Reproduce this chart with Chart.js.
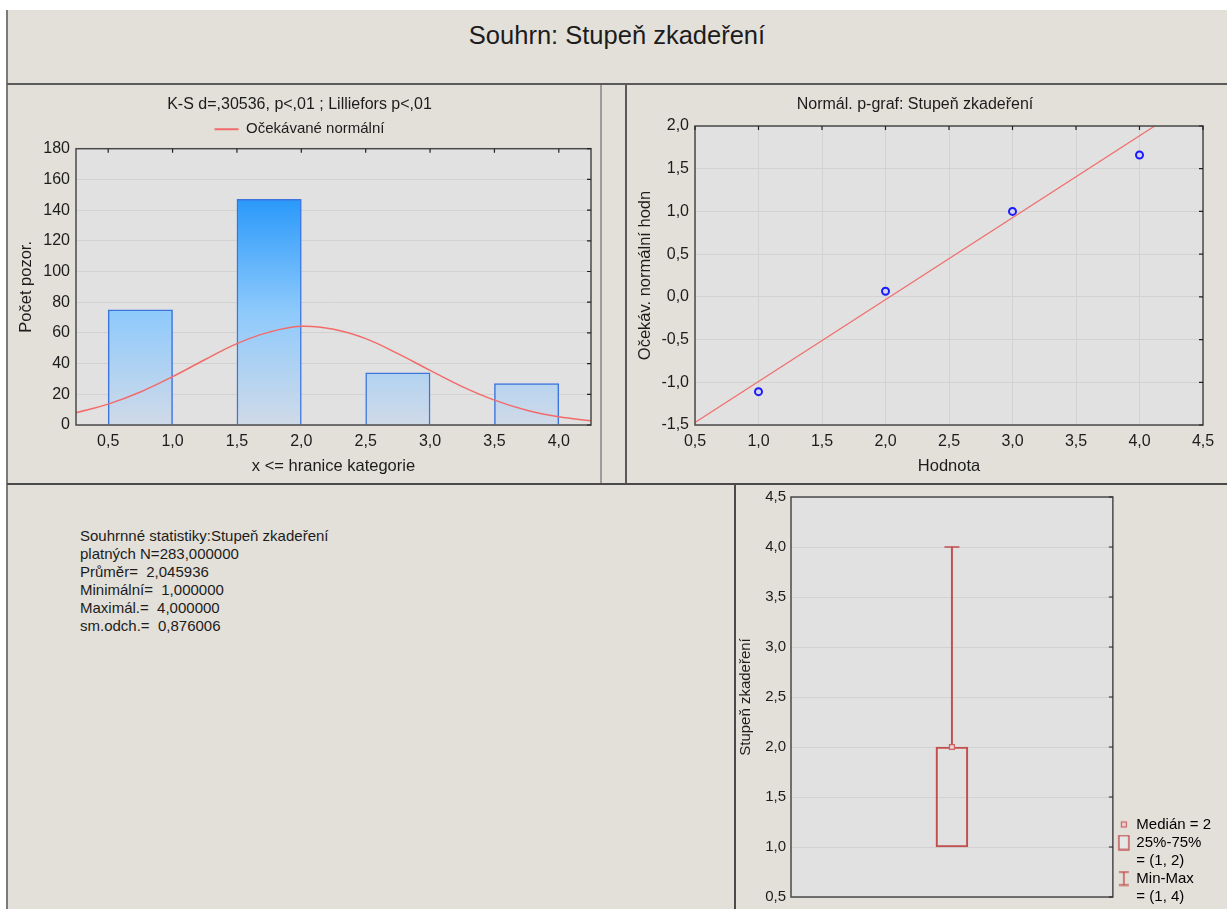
<!DOCTYPE html>
<html lang="cs">
<head>
<meta charset="utf-8">
<title>Souhrn: Stupeň zkadeření</title>
<script src="https://cdn.jsdelivr.net/npm/chart.js@4.4.1/dist/chart.umd.min.js"></script>
<style>
  html, body { margin: 0; padding: 0; background: #fff; }
  body { width: 1227px; height: 909px; position: relative; overflow: hidden;
         font-family: "Liberation Sans", Arial, sans-serif; color: #1c1c1c; }
  .bg { position: absolute; left: 7px; top: 10px; width: 1220px; height: 899px; background: #e3e0d9; }
  .ln { position: absolute; }
  #mainTitle { position: absolute; left: 7px; top: 10px; width: 1220px; height: 74px;
               font-size: 25.5px; text-align: center; line-height: 50px; }
  canvas { position: absolute; }
  #stats { position: absolute; left: 80px; top: 527px; font-size: 15px; line-height: 18px; white-space: pre; }
</style>
</head>
<body>
<div class="bg"></div>
<div id="mainTitle">Souhrn: Stupeň zkadeření</div>

<canvas id="hist" width="592" height="397" style="left:8px;top:86px"></canvas>
<canvas id="pplot" width="600" height="397" style="left:627px;top:86px"></canvas>
<canvas id="boxplot" width="491" height="424" style="left:736px;top:485px"></canvas>
<div id="stats"></div>

<!-- ramecky panelu -->
<div class="ln" style="left:6px;top:10px;width:2px;height:899px;background:#7a7a7a"></div>
<div class="ln" style="left:7px;top:83px;width:1220px;height:2px;background:#5a5a5a"></div>
<div class="ln" style="left:600px;top:85px;width:2px;height:398px;background:#9c9c9c"></div>
<div class="ln" style="left:625px;top:85px;width:2px;height:398px;background:#5a5a5a"></div>
<div class="ln" style="left:7px;top:483px;width:1220px;height:2px;background:#4a4a4a"></div>
<div class="ln" style="left:734px;top:484px;width:2px;height:425px;background:#4a4a4a"></div>

<script>
// ---- data ----
const histCenters = [0.75, 1.75, 2.75, 3.75];
const histCounts = [75, 147, 34, 27];
const histXTicks = [0.5, 1.0, 1.5, 2.0, 2.5, 3.0, 3.5, 4.0];
const normalX = [0.25, 0.5, 0.75, 1.0, 1.25, 1.5, 1.75, 2.0, 2.25, 2.5, 2.75, 3.0, 3.25, 3.5, 3.75, 4.0, 4.25];
const normalY = [8, 13.6, 21.5, 31.5, 42.5, 53, 60.5, 64.3, 62.4, 56.3, 46.5, 35.6, 25, 16.2, 9.6, 5.3, 2.7];

const ppX = [1, 2, 3, 4];
const ppY = [-1.11, 0.065, 1.0, 1.66];
const refLineX = [0.5, 4.12];
const refLineY = [-1.47, 2.0];

const boxMin = [1];
const boxQ1 = [1];
const boxMedian = [2];
const boxQ3 = [2];
const boxMax = [4];

const statLabels = ["platných N=", "Průměr=  ", "Minimální=  ", "Maximál.=  ", "sm.odch.=  "];
const statValues = ["283,000000", "2,045936", "1,000000", "4,000000", "0,876006"];

// ---- helpers ----
const FONT = '"Liberation Sans", Arial, sans-serif';
const TXT = '#1c1c1c';
const GRID = '#d2d2d2';
const PLOT_BG = '#e1e1e1';
const RED = '#c24e4e';

Chart.defaults.font.family = FONT;
Chart.defaults.color = TXT;

const fmt1 = v => Number(v).toFixed(1).replace('.', ',');

document.getElementById('stats').textContent =
  'Souhrnné statistiky:Stupeň zkadeření\n' +
  statLabels.map((l, i) => l + statValues[i]).join('\n');

const plotFrame = {
  id: 'plotFrame',
  beforeDraw(chart, args, opts) {
    const { ctx, chartArea: a } = chart;
    ctx.save();
    ctx.fillStyle = PLOT_BG;
    ctx.fillRect(a.left, a.top, a.width, a.height);
    ctx.restore();
  },
  afterDraw(chart, args, opts) {
    const { ctx, chartArea: a } = chart;
    ctx.save();
    ctx.strokeStyle = '#4a4a4a';
    ctx.lineWidth = 1.5;
    ctx.strokeRect(a.left, a.top, a.width, a.height);
    ctx.strokeStyle = '#222';
    ctx.lineWidth = 1.2;
    ctx.beginPath();
    if (opts.markTop) {
      const sx = chart.scales.x;
      sx.ticks.forEach(t => {
        const px = sx.getPixelForValue(t.value);
        ctx.moveTo(px, a.top); ctx.lineTo(px, a.top + 4);
      });
    }
    const sy = chart.scales.y;
    sy.ticks.forEach(t => {
      const py = sy.getPixelForValue(t.value);
      ctx.moveTo(a.right, py); ctx.lineTo(a.right - 4, py);
    });
    ctx.stroke();
    ctx.restore();
  }
};

// prazdna osa jen jako mezera
function spacer(position, size) {
  return {
    type: position === 'bottom' ? 'category' : 'linear', position: position, display: true,
    grid: { display: false, drawTicks: false }, border: { display: false }, ticks: { display: false },
    afterFit: s => { s.height = size; }
  };
}

function barGradient(c) {
  const chart = c.chart;
  if (!chart.chartArea) return '#8ec8fb';
  const y = chart.scales.y;
  const g = chart.ctx.createLinearGradient(0, y.getPixelForValue(Math.max(...histCounts)), 0, y.getPixelForValue(0));
  g.addColorStop(0, 'rgb(42,153,250)');
  g.addColorStop(0.5, 'rgb(142,202,252)');
  g.addColorStop(1, 'rgb(208,218,232)');
  return g;
}

// ---- histogram ----
new Chart(document.getElementById('hist'), {
  type: 'bar',
  data: {
    datasets: [
      {
        type: 'bar', label: 'Počet pozor.',
        data: histCenters.map((x, i) => ({ x, y: histCounts[i] })),
        backgroundColor: barGradient, borderColor: '#3c74de', borderWidth: 1.5,
        barPercentage: 1, categoryPercentage: 1, order: 2
      },
      {
        type: 'line', label: 'Očekávané normální',
        data: normalX.map((x, i) => ({ x, y: normalY[i] })),
        borderColor: '#f26b6b', borderWidth: 1.5, pointRadius: 0,
        pointStyle: 'line', pointBorderWidth: 2,
        tension: 0.4, fill: false, order: 1
      }
    ]
  },
  options: {
    responsive: false, animation: false,
    layout: { padding: { left: 0, right: 9, top: 0, bottom: 0 } },
    plugins: {
      title: { display: true, text: 'K-S d=,30536, p<,01 ; Lilliefors p<,01',
               font: { size: 16, weight: 'normal' }, padding: { top: 9, bottom: 2 } },
      legend: { display: true,
                labels: { filter: it => it.datasetIndex === 1, usePointStyle: true, pointStyleWidth: 24,
                          font: { size: 15 }, padding: 5.5 } },
      tooltip: { enabled: false },
      plotFrame: { markTop: true }
    },
    scales: {
      x: {
        type: 'linear', min: 0.25, max: 4.25, offset: false,
        afterBuildTicks: s => { s.ticks = histXTicks.map(v => ({ value: v })); },
        ticks: { callback: fmt1, font: { size: 16 }, padding: 7, autoSkip: false, maxRotation: 0 },
        grid: { display: false, drawTicks: false }, border: { display: false },
        title: { display: true, text: 'x <= hranice kategorie', font: { size: 16.5 }, padding: { top: 0, bottom: 7.1 } },
        afterFit: s => { s.height = 58; }
      },
      y: {
        min: 0, max: 180,
        ticks: { stepSize: 20, font: { size: 16 }, padding: 6 },
        grid: { color: GRID, drawTicks: false }, border: { display: false },
        title: { display: true, text: 'Počet pozor.', font: { size: 16.5 }, padding: { top: 8.1, bottom: 0 } },
        afterFit: s => { s.width = 68; }
      },
      x2: spacer('top', 2)
    }
  },
  plugins: [plotFrame]
});

// ---- normalni p-graf ----
new Chart(document.getElementById('pplot'), {
  type: 'scatter',
  data: {
    datasets: [
      {
        label: 'Hodnota',
        data: ppX.map((x, i) => ({ x, y: ppY[i] })),
        pointRadius: 3.5, pointBorderWidth: 2, pointBorderColor: '#1a1aff',
        pointBackgroundColor: '#d4d4ee', showLine: false, order: 1
      },
      {
        label: 'přímka',
        data: refLineX.map((x, i) => ({ x, y: refLineY[i] })),
        showLine: true, borderColor: '#f07070', borderWidth: 1.3, pointRadius: 0, order: 2
      }
    ]
  },
  options: {
    responsive: false, animation: false,
    layout: { padding: { left: 0, right: 24, top: 0, bottom: 0 } },
    plugins: {
      title: { display: true, text: 'Normál. p-graf: Stupeň zkadeření',
               font: { size: 16, weight: 'normal' }, padding: { top: 9, bottom: 2 } },
      legend: { display: false },
      tooltip: { enabled: false },
      plotFrame: { markTop: true }
    },
    scales: {
      x: {
        type: 'linear', min: 0.5, max: 4.5,
        ticks: { stepSize: 0.5, callback: fmt1, font: { size: 16 }, padding: 7, maxRotation: 0 },
        grid: { color: GRID, drawTicks: false }, border: { display: false },
        title: { display: true, text: 'Hodnota', font: { size: 16.5 }, padding: { top: 0, bottom: 7.1 } },
        afterFit: s => { s.height = 58; }
      },
      y: {
        min: -1.5, max: 2.0,
        ticks: { stepSize: 0.5, callback: fmt1, font: { size: 16 }, padding: 6 },
        grid: { color: GRID, drawTicks: false }, border: { display: false },
        title: { display: true, text: 'Očekáv. normální hodn', font: { size: 16.5 }, padding: { top: 8.1, bottom: 0 } },
        afterFit: s => { s.width = 68; }
      },
      x2: spacer('top', 9.8)
    }
  },
  plugins: [plotFrame]
});

// ---- krabicovy graf ----
// ikony legendy: kresba posunuta o 3 px doprava od stredu platna
function icon(kind) {
  const c = document.createElement('canvas');
  c.width = 22; c.height = 16;
  const ctx = c.getContext('2d');
  const cx = 14;
  if (kind === 'median') {
    ctx.fillStyle = '#e8d4d4'; ctx.fillRect(cx - 2.5, 5.5, 5, 5);
    ctx.strokeStyle = '#d06060'; ctx.lineWidth = 1.2; ctx.strokeRect(cx - 2.5, 5.5, 5, 5);
  } else if (kind === 'box') {
    ctx.fillStyle = '#e6e6e6'; ctx.fillRect(cx - 5, 1, 10, 14);
    ctx.strokeStyle = RED; ctx.lineWidth = 1.4; ctx.strokeRect(cx - 5, 1, 10, 14);
  } else {
    ctx.strokeStyle = RED; ctx.lineWidth = 1.4;
    ctx.beginPath();
    ctx.moveTo(cx - 5, 1.5); ctx.lineTo(cx + 5, 1.5);
    ctx.moveTo(cx, 1.5); ctx.lineTo(cx, 14.5);
    ctx.moveTo(cx - 5, 14.5); ctx.lineTo(cx + 5, 14.5);
    ctx.stroke();
  }
  return c;
}
const iconMedian = icon('median'), iconBox = icon('box'), iconRange = icon('range');

new Chart(document.getElementById('boxplot'), {
  type: 'bar',
  data: {
    labels: ['Stupeň zkadeření'],
    datasets: [
      {
        type: 'bar', label: '25%-75%', yAxisID: 'y',
        data: boxQ1.map((q, i) => [q, boxQ3[i]]),
        backgroundColor: 'rgba(0,0,0,0)', borderColor: RED, borderWidth: 1.5,
        borderSkipped: false, barThickness: 32, grouped: false, order: 3
      },
      {
        type: 'bar', label: 'whisker', yAxisID: 'y',
        data: boxQ3.map((q, i) => [q, boxMax[i]]),
        backgroundColor: RED, borderWidth: 0, barThickness: 1.3, grouped: false, order: 4
      },
      {
        type: 'line', label: 'Min-Max', yAxisID: 'y',
        data: boxMax, showLine: false, pointStyle: 'line', pointRadius: 7.5,
        pointBorderWidth: 1.5, borderColor: RED, order: 2
      },
      {
        type: 'line', label: 'Medián', yAxisID: 'y',
        data: boxMedian, showLine: false, pointStyle: 'rect', pointRadius: 3.5,
        pointBorderWidth: 1.2, borderColor: '#d06060', backgroundColor: '#e8d4d4', order: 1
      }
    ]
  },
  options: {
    responsive: false, animation: false,
    layout: { padding: { left: 0, right: 6, top: 12, bottom: 2 } },
    plugins: {
      legend: {
        display: true, position: 'right', align: 'end',
        labels: {
          usePointStyle: true, pointStyleWidth: 16, padding: 0, font: { size: 15, lineHeight: 1.2 },
          generateLabels: () => [
            { text: ['Medián = ' + boxMedian[0]], pointStyle: iconMedian, lineWidth: 0, hidden: false },
            { text: ['25%-75%', '= (' + boxQ1[0] + ', ' + boxQ3[0] + ')'], pointStyle: iconBox, lineWidth: 0, hidden: false },
            { text: ['Min-Max', '= (' + boxMin[0] + ', ' + boxMax[0] + ')'], pointStyle: iconRange, lineWidth: 0, hidden: false }
          ]
        }
      },
      tooltip: { enabled: false },
      plotFrame: { markTop: false }
    },
    scales: {
      y: {
        min: 0.5, max: 4.5,
        ticks: { stepSize: 0.5, callback: fmt1, font: { size: 15 }, padding: 0 },
        grid: { color: GRID, drawTicks: true, tickLength: 5, tickColor: 'rgba(0,0,0,0)' },
        border: { display: false },
        title: { display: true, text: 'Stupeň zkadeření', font: { size: 15 }, padding: { top: 1, bottom: 0 } },
        afterFit: s => { s.width = 55; }
      },
      x: spacer('bottom', 10)
    }
  },
  plugins: [plotFrame]
});
</script>
</body>
</html>
